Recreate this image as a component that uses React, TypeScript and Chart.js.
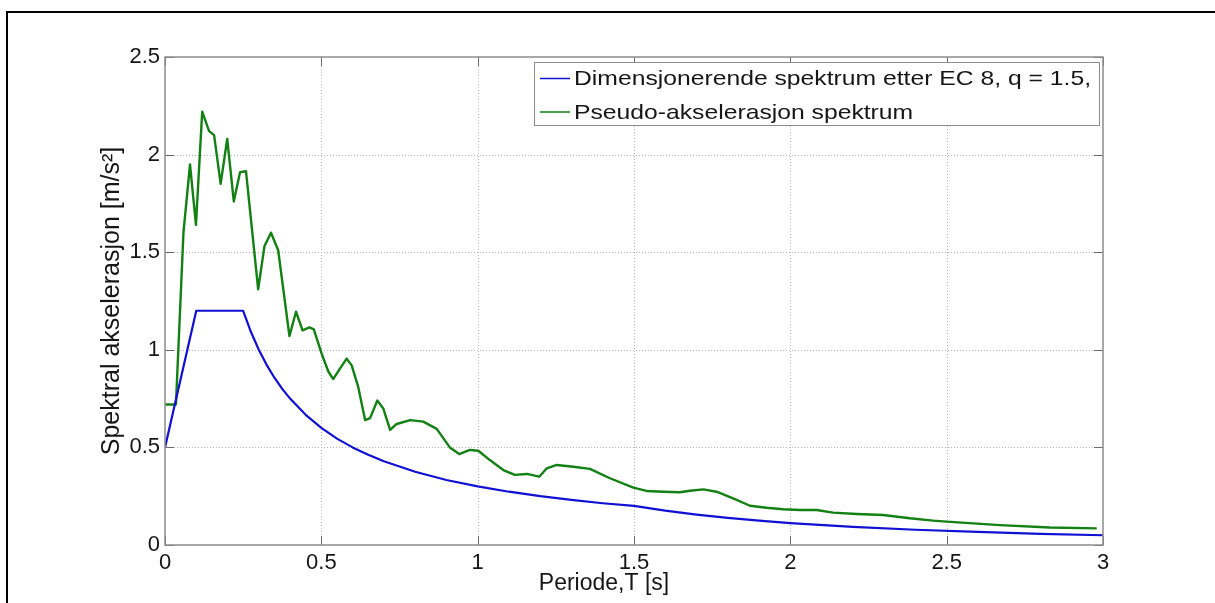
import React, { useEffect, useRef } from 'react';
import { Chart, registerables } from 'chart.js';
Chart.register(...registerables);

// Design spectrum (EC 8, q = 1.5)
const designPeriod = [0, 0.1, 0.25, 0.275, 0.3, 0.325, 0.35, 0.375, 0.4, 0.45, 0.5, 0.55, 0.6, 0.65, 0.7, 0.8, 0.9, 1.0, 1.1, 1.2, 1.3, 1.4, 1.5, 1.6, 1.7, 1.8, 1.9, 2.0, 2.2, 2.4, 2.6, 2.8, 3.0];
const designAccel = [0.5, 1.2, 1.2, 1.091, 1.0, 0.923, 0.857, 0.8, 0.75, 0.667, 0.6, 0.545, 0.5, 0.462, 0.429, 0.375, 0.333, 0.3, 0.273, 0.25, 0.231, 0.214, 0.2, 0.176, 0.156, 0.139, 0.125, 0.1125, 0.093, 0.078, 0.067, 0.057, 0.05];

// Pseudo-acceleration spectrum
const pseudoPeriod = [0, 0.035, 0.059, 0.080, 0.099, 0.119, 0.141, 0.157, 0.178, 0.199, 0.220, 0.240, 0.259, 0.298, 0.318, 0.339, 0.362, 0.398, 0.419, 0.440, 0.462, 0.476, 0.501, 0.522, 0.538, 0.560, 0.581, 0.597, 0.618, 0.640, 0.656, 0.679, 0.698, 0.720, 0.741, 0.784, 0.826, 0.869, 0.911, 0.941, 0.975, 1.002, 1.039, 1.082, 1.119, 1.157, 1.197, 1.221, 1.253, 1.306, 1.359, 1.423, 1.498, 1.540, 1.594, 1.647, 1.679, 1.722, 1.764, 1.817, 1.871, 1.924, 1.977, 2.031, 2.084, 2.137, 2.212, 2.297, 2.382, 2.457, 2.50, 2.67, 2.83, 2.98];
const pseudoAccel = [0.72, 0.72, 1.60, 1.95, 1.64, 2.22, 2.12, 2.10, 1.85, 2.08, 1.76, 1.91, 1.915, 1.31, 1.53, 1.60, 1.51, 1.07, 1.195, 1.10, 1.115, 1.105, 0.98, 0.89, 0.85, 0.905, 0.955, 0.92, 0.81, 0.64, 0.65, 0.74, 0.70, 0.59, 0.62, 0.64, 0.632, 0.595, 0.50, 0.466, 0.487, 0.483, 0.435, 0.384, 0.359, 0.364, 0.35, 0.393, 0.41, 0.401, 0.39, 0.342, 0.294, 0.277, 0.273, 0.27, 0.278, 0.285, 0.273, 0.239, 0.201, 0.191, 0.183, 0.179, 0.179, 0.166, 0.159, 0.154, 0.137, 0.125, 0.12, 0.102, 0.09, 0.085];

const xTicks = [0, 0.5, 1, 1.5, 2, 2.5, 3];
const yTicks = [0, 0.5, 1, 1.5, 2, 2.5];
const seriesLabels = ['Dimensjonerende spektrum etter EC 8, q = 1.5,', 'Pseudo-akselerasjon spektrum'];
const xTitle = 'Periode,T [s]';
const yTitle = 'Spektral akselerasjon [m/s²]';

const BLUE = '#1010d4';
const GREEN = '#138013';
const FONT = '"Liberation Sans", Arial, sans-serif';
const TEXT = '#161616';

const matlabAxes = {
  id: 'matlabAxes',
  beforeDatasetsDraw(chart: any) {
    const { ctx, chartArea, scales } = chart;
    const { left, right, top, bottom } = chartArea;
    ctx.save();
    ctx.strokeStyle = '#b4b4b4';
    ctx.lineWidth = 1;
    ctx.setLineDash([1, 2]);
    for (const v of xTicks) {
      const px = Math.round(scales.x.getPixelForValue(v)) + 0.5;
      if (px <= left + 1 || px >= right - 1) continue;
      ctx.beginPath(); ctx.moveTo(px, top); ctx.lineTo(px, bottom); ctx.stroke();
    }
    for (const v of yTicks) {
      const py = Math.round(scales.y.getPixelForValue(v)) + 0.5;
      if (py <= top + 1 || py >= bottom - 1) continue;
      ctx.beginPath(); ctx.moveTo(left, py); ctx.lineTo(right, py); ctx.stroke();
    }
    ctx.restore();
  },
  afterDatasetsDraw(chart: any) {
    const { ctx, chartArea, scales } = chart;
    const { left, right, top, bottom } = chartArea;
    ctx.save();
    ctx.setLineDash([]);
    ctx.strokeStyle = '#6a6a6a';
    ctx.lineWidth = 1;
    const tl = 9;
    for (const v of xTicks) {
      const px = Math.round(scales.x.getPixelForValue(v)) + 0.5;
      ctx.beginPath(); ctx.moveTo(px, bottom); ctx.lineTo(px, bottom - tl); ctx.stroke();
      ctx.beginPath(); ctx.moveTo(px, top); ctx.lineTo(px, top + tl); ctx.stroke();
    }
    for (const v of yTicks) {
      const py = Math.round(scales.y.getPixelForValue(v)) + 0.5;
      ctx.beginPath(); ctx.moveTo(left, py); ctx.lineTo(left + tl, py); ctx.stroke();
      ctx.beginPath(); ctx.moveTo(right, py); ctx.lineTo(right - tl, py); ctx.stroke();
    }
    ctx.strokeStyle = '#8c8c8c';
    ctx.lineWidth = 1.5;
    ctx.strokeRect(left, top, right - left, bottom - top);

    // legend
    const lx = 534, ly = 62, lw = 565, lh = 63;
    ctx.fillStyle = '#ffffff';
    ctx.fillRect(lx, ly, lw, lh);
    ctx.strokeStyle = '#8c8c8c';
    ctx.lineWidth = 1;
    ctx.strokeRect(lx + 0.5, ly + 0.5, lw, lh);
    const rows = [78.5, 112];
    const colors = [BLUE, GREEN];
    ctx.font = `21px ${FONT}`;
    ctx.textBaseline = 'middle';
    ctx.textAlign = 'left';
    const w0 = ctx.measureText(seriesLabels[0]).width;
    const sx = 517 / w0;
    seriesLabels.forEach((label, i) => {
      ctx.strokeStyle = colors[i];
      ctx.lineWidth = 1.5;
      ctx.beginPath(); ctx.moveTo(540, rows[i]); ctx.lineTo(570, rows[i]); ctx.stroke();
      ctx.save();
      ctx.translate(574, rows[i] + 1);
      ctx.scale(sx, 1);
      ctx.fillStyle = TEXT;
      ctx.fillText(label, 0, 0);
      ctx.restore();
    });

    // axis titles
    ctx.fillStyle = TEXT;
    ctx.textAlign = 'center';
    ctx.textBaseline = 'middle';
    ctx.font = `23px ${FONT}`;
    ctx.fillText(xTitle, 604, 584);
    ctx.save();
    ctx.translate(112, 301);
    ctx.rotate(-Math.PI / 2);
    ctx.font = `25px ${FONT}`;
    ctx.fillText(yTitle, 0, 0);
    ctx.restore();
    ctx.restore();
  },
};

export default function App() {
  const canvasRef = useRef<HTMLCanvasElement | null>(null);

  useEffect(() => {
    const canvas = canvasRef.current;
    if (!canvas) return;
    const chart = new Chart(canvas, {
      type: 'line',
      data: {
        datasets: [
          {
            label: seriesLabels[0],
            data: designPeriod.map((t, i) => ({ x: t, y: designAccel[i] })),
            borderColor: BLUE,
            borderWidth: 2.2,
            pointRadius: 0,
            tension: 0,
            fill: false,
            borderJoinStyle: 'round',
          },
          {
            label: seriesLabels[1],
            data: pseudoPeriod.map((t, i) => ({ x: t, y: pseudoAccel[i] })),
            borderColor: GREEN,
            borderWidth: 2.4,
            pointRadius: 0,
            tension: 0,
            fill: false,
            borderJoinStyle: 'round',
          },
        ],
      },
      options: {
        responsive: false,
        animation: false,
        devicePixelRatio: 1,
        layout: { padding: { left: 0, top: 57, right: 112, bottom: 0 } },
        plugins: { legend: { display: false }, tooltip: { enabled: false } },
        scales: {
          x: {
            type: 'linear',
            min: 0,
            max: 3,
            afterBuildTicks: (scale: any) => { scale.ticks = xTicks.map((v) => ({ value: v })); },
            afterFit: (scale: any) => { scale.height = 603 - 545; },
            grid: { display: false, drawTicks: false },
            border: { display: false },
            ticks: {
              font: { family: FONT, size: 22 },
              color: TEXT,
              padding: 5,
              maxRotation: 0,
              autoSkip: false,
              callback: (v: any) => String(v),
            },
          },
          y: {
            type: 'linear',
            min: 0,
            max: 2.5,
            afterBuildTicks: (scale: any) => { scale.ticks = yTicks.map((v) => ({ value: v })); },
            afterFit: (scale: any) => { scale.width = 165; },
            grid: { display: false, drawTicks: false },
            border: { display: false },
            ticks: {
              font: { family: FONT, size: 22 },
              color: TEXT,
              padding: 5,
              autoSkip: false,
              callback: (v: any) => String(v),
            },
          },
        },
      },
      plugins: [matlabAxes],
    });
    return () => chart.destroy();
  }, []);

  return (
    <div style={{ position: 'fixed', left: 0, top: 0, width: 1215, height: 603, overflow: 'hidden', background: '#ffffff' }}>
      <div style={{ position: 'absolute', left: 6, top: 11, width: 1400, height: 800, borderTop: '2px solid #000000', borderLeft: '2px solid #000000', boxSizing: 'border-box' }} />
      <canvas ref={canvasRef} width={1215} height={603} style={{ position: 'absolute', left: 0, top: 0, width: 1215, height: 603 }} />
    </div>
  );
}
